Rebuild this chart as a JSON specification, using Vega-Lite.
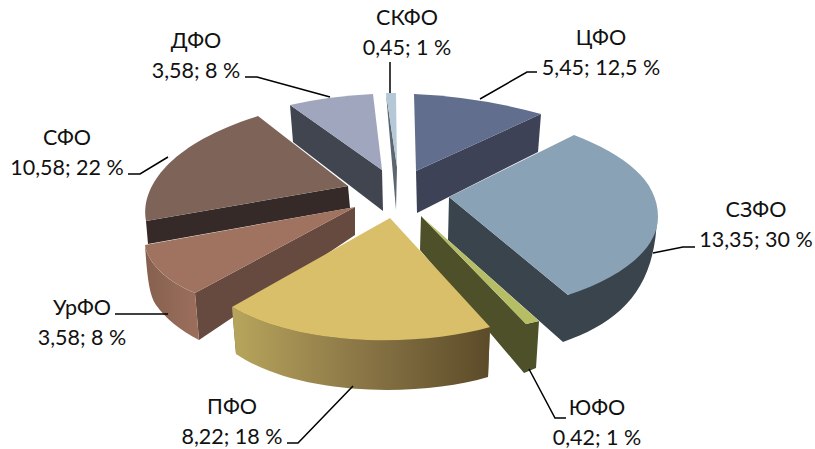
{
  "$schema": "https://vega.github.io/schema/vega-lite/v6.json",
  "width": 815,
  "height": 449,
  "padding": 0,
  "autosize": "none",
  "background": "white",
  "config": {"view": {"stroke": null}},
  "data": {
    "values": [
      {"sector": 1, "district": "ЦФО", "value": 5.45, "share": 12.5},
      {"sector": 2, "district": "СЗФО", "value": 13.35, "share": 30},
      {"sector": 3, "district": "ЮФО", "value": 0.42, "share": 1},
      {"sector": 4, "district": "ПФО", "value": 8.22, "share": 18},
      {"sector": 5, "district": "УрФО", "value": 3.58, "share": 8},
      {"sector": 6, "district": "СФО", "value": 10.58, "share": 22},
      {"sector": 7, "district": "ДФО", "value": 3.58, "share": 8},
      {"sector": 8, "district": "СКФО", "value": 0.45, "share": 1}
    ]
  },
  "layer": [
    {
      "transform": [{"calculate": "datum.district + ' wall'", "as": "face"}],
      "mark": {"type": "point", "filled": true, "opacity": 1, "size": 4},
      "encoding": {
        "x": {"value": 0},
        "y": {"value": 0},
        "shape": {
          "field": "face", "type": "nominal", "legend": null,
          "scale": {
            "domain": [
              "ЦФО wall", "СЗФО wall", "ЮФО wall", "ПФО wall", "УрФО wall", "СФО wall", "ДФО wall", "СКФО wall",
              "ЦФО top", "СЗФО top", "ЮФО top", "ПФО top", "УрФО top", "СФО top", "ДФО top", "СКФО top",
              "ЦФО leader", "СЗФО leader", "ЮФО leader", "ПФО leader", "УрФО leader", "СФО leader", "ДФО leader", "СКФО leader"
            ],
            "range": [
              "M416,171 L541,114 L538,152 L417,213 Z",
              "M449,197 L448,240 L563,342 C620,322 655,290 657,217 L568,295 Z",
              "M421,216 L526,324 L539,321 L536,368 L524,373 L420,250 Z",
              "M232,307 L490,327 L488,377 L236,354 Z",
              "M355,207 L195,293 L199,340 L355,235 Z",
              "M146,221 L348,186 L350,208 L148,244 Z",
              "M290,105 L382,170 L383,211 L293,142 Z",
              "M386,93 L397,167 L396,210 Z",
              "M414,94 Q480,97 541,114 L416,171 Z",
              "M449,197 L574,135 C625,155 658,180 658,217 C658,250 620,278 568,295 Z",
              "M421,216 L539,321 L526,324 Z",
              "M390,218 L490,327 C420,347 300,347 232,307 Z",
              "M355,207 L145,245 C148,265 170,283 195,293 Z",
              "M258,116 L348,186 L146,221 C140,190 165,145 258,116 Z",
              "M290,105 Q330,96 373,94 L382,170 Z",
              "M386,93 L396,93 L397,167 Z",
              "M480,99 L527,72 L537,72",
              "M653,253 L683,247 L695,247",
              "M529,369 L555,418 L566,418",
              "M353,386 L298,443 L287,443",
              "M168,314 L115,314",
              "M168,157 L140,174 L128,174",
              "M330,97 L257,77 L245,77",
              "M390,62 L390,93"
            ]
          }
        },
        "color": {
          "field": "face", "type": "nominal", "legend": null,
          "scale": {
            "domain": [
              "ЦФО wall", "СЗФО wall", "ЮФО wall", "ПФО wall", "УрФО wall", "СФО wall", "ДФО wall", "СКФО wall",
              "ЦФО top", "СЗФО top", "ЮФО top", "ПФО top", "УрФО top", "СФО top", "ДФО top", "СКФО top"
            ],
            "range": [
              "#3d4257", "#3a444d", "#4e5029", "#6e5c35", "#674a3f", "#352a27", "#41454f", "#5b6670",
              "#616e8e", "#8aa2b5", "#b5bd65", "#d9bf69", "#a07360", "#7e6359", "#a0a6bd", "#b5c8d8"
            ]
          }
        }
      }
    },
    {
      "transform": [{"filter": "datum.district === 'ПФО'"}],
      "mark": {
        "type": "point", "filled": true, "opacity": 1, "size": 4,
        "shape": "M232,307 C300,347 420,347 490,327 L488,377 C420,397 300,397 236,354 Z",
        "color": {
          "gradient": "linear", "x1": 0, "x2": 1, "y1": 0, "y2": 0,
          "stops": [
            {"offset": 0, "color": "#b8a55c"},
            {"offset": 0.5, "color": "#8a7646"},
            {"offset": 1, "color": "#5c4b29"}
          ]
        }
      },
      "encoding": {"x": {"value": 0}, "y": {"value": 0}}
    },
    {
      "transform": [{"filter": "datum.district === 'УрФО'"}],
      "mark": {
        "type": "point", "filled": true, "opacity": 1, "size": 4,
        "shape": "M145,245 C148,265 170,283 195,293 L199,340 C180,330 165,318 156,305 C149,295 147,275 145,245 Z",
        "color": {
          "gradient": "linear", "x1": 0, "x2": 1, "y1": 0, "y2": 0,
          "stops": [
            {"offset": 0, "color": "#86604f"},
            {"offset": 1, "color": "#9c6f5c"}
          ]
        }
      },
      "encoding": {"x": {"value": 0}, "y": {"value": 0}}
    },
    {
      "transform": [{"calculate": "datum.district + ' top'", "as": "face"}],
      "mark": {"type": "point", "filled": true, "opacity": 1, "size": 4},
      "encoding": {
        "x": {"value": 0},
        "y": {"value": 0},
        "shape": {"field": "face", "type": "nominal", "legend": null},
        "color": {"field": "face", "type": "nominal", "legend": null}
      }
    },
    {
      "transform": [{"calculate": "datum.district + ' leader'", "as": "face"}],
      "mark": {"type": "point", "filled": false, "opacity": 1, "size": 4, "strokeWidth": 1.5, "color": "black"},
      "encoding": {
        "x": {"value": 0},
        "y": {"value": 0},
        "shape": {"field": "face", "type": "nominal", "legend": null}
      }
    },
    {
      "transform": [
        {
          "calculate": "datum.district + '\\n' + replace('' + datum.value, '.', ',') + '; ' + replace('' + datum.share, '.', ',') + ' %'",
          "as": "label"
        }
      ],
      "mark": {
        "type": "text", "font": "Lato", "fontSize": 21.5, "color": "#111111",
        "align": "center", "baseline": "alphabetic", "lineBreak": "\n", "lineHeight": 29.5
      },
      "encoding": {
        "text": {"field": "label", "type": "nominal"},
        "x": {
          "field": "sector", "type": "quantitative", "axis": null,
          "scale": {"domain": [1, 2, 3, 4, 5, 6, 7, 8], "range": [601, 756, 597, 232, 82, 67, 196, 407], "zero": false, "nice": false}
        },
        "y": {
          "field": "sector", "type": "quantitative", "axis": null,
          "scale": {"domain": [1, 2, 3, 4, 5, 6, 7, 8], "range": [45, 217, 415, 414, 315, 145, 48, 25], "zero": false, "nice": false}
        }
      }
    }
  ]
}
